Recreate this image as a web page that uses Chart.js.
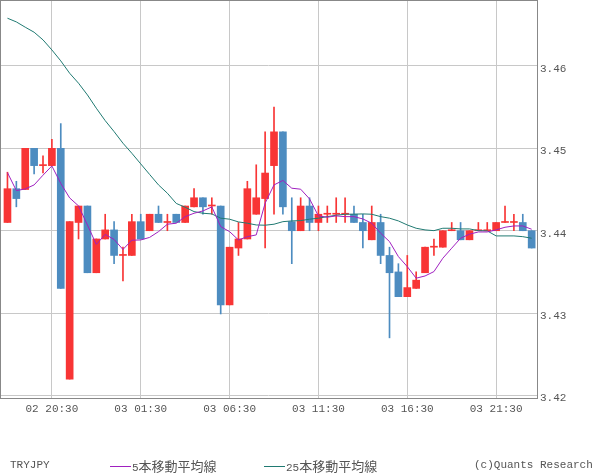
<!DOCTYPE html>
<html><head><meta charset="utf-8">
<script src="https://cdn.jsdelivr.net/npm/chart.js@4"></script>
<style>
body{margin:0;background:#fff;}
#wrap{position:relative;width:600px;height:475px;overflow:hidden;}
canvas{position:absolute;left:0;top:0;}
.lg{position:absolute;font-family:"Liberation Mono",monospace;font-size:11px;color:#555;line-height:13px;white-space:nowrap;}
.kj{font-family:"Noto Sans CJK JP";font-size:13px;line-height:13px;}
.sw{position:absolute;height:1px;width:21px;}
</style></head>
<body><div id="wrap"><canvas id="c" width="600" height="475"></canvas>
<div class="lg" style="left:10px;top:459px">TRYJPY</div>
<div class="sw" style="left:110px;top:466px;background:#a020c0"></div>
<div class="lg" style="left:132px;top:459px">5<span class="kj">本移動平均線</span></div>
<div class="sw" style="left:264px;top:466px;background:#207a72"></div>
<div class="lg" style="left:286px;top:459px">25<span class="kj">本移動平均線</span></div>
<div class="lg" style="left:474px;top:459px">(c)Quants Research</div>
</div>
<script>
const times = ["02 18:00","02 18:30","02 19:00","02 19:30","02 20:00","02 20:30","02 21:00","02 21:30","02 22:00","02 22:30",
"02 23:00","02 23:30","03 00:00","03 00:30","03 01:00","03 01:30","03 02:00","03 02:30","03 03:00","03 03:30",
"03 04:00","03 04:30","03 05:00","03 05:30","03 06:00","03 06:30","03 07:00","03 07:30","03 08:00","03 08:30",
"03 09:00","03 09:30","03 10:00","03 10:30","03 11:00","03 11:30","03 12:00","03 12:30","03 13:00","03 13:30",
"03 14:00","03 14:30","03 15:00","03 15:30","03 16:00","03 16:30","03 17:00","03 17:30","03 18:00","03 18:30",
"03 19:00","03 19:30","03 20:00","03 20:30","03 21:00","03 21:30","03 22:00","03 22:30","03 23:00","03 23:30"];
const openP = [3.4410,3.4451,3.4450,3.4500,3.4479,3.4479,3.4500,3.4220,3.4410,3.4430,
3.4349,3.4390,3.4401,3.4370,3.4370,3.4411,3.4400,3.4420,3.4410,3.4420,
3.4410,3.4429,3.4440,3.4430,3.4430,3.4310,3.4379,3.4390,3.4420,3.4439,
3.4479,3.4520,3.4411,3.4400,3.4430,3.4410,3.4420,3.4420,3.4420,3.4420,
3.4410,3.4389,3.4410,3.4370,3.4350,3.4320,3.4330,3.4349,3.4380,3.4380,
3.4400,3.4400,3.4389,3.4400,3.4400,3.4400,3.4410,3.4410,3.4410,3.4400];
const highP = [3.4471,3.4460,3.4500,3.4500,3.4491,3.4511,3.4530,3.4411,3.4430,3.4430,
3.4390,3.4420,3.4411,3.4380,3.4420,3.4420,3.4420,3.4430,3.4420,3.4420,
3.4430,3.4451,3.4440,3.4440,3.4430,3.4380,3.4410,3.4460,3.4480,3.4520,
3.4550,3.4520,3.4440,3.4440,3.4440,3.4430,3.4430,3.4440,3.4440,3.4430,
3.4420,3.4430,3.4420,3.4380,3.4360,3.4370,3.4350,3.4380,3.4390,3.4400,
3.4410,3.4410,3.4400,3.4410,3.4410,3.4410,3.4430,3.4420,3.4420,3.4400];
const lowP = [3.4410,3.4429,3.4450,3.4469,3.4470,3.4479,3.4330,3.4220,3.4390,3.4349,
3.4349,3.4390,3.4360,3.4339,3.4370,3.4390,3.4400,3.4410,3.4400,3.4410,
3.4410,3.4429,3.4420,3.4420,3.4299,3.4310,3.4370,3.4390,3.4420,3.4379,
3.4420,3.4420,3.4360,3.4400,3.4400,3.4400,3.4410,3.4410,3.4410,3.4410,
3.4379,3.4389,3.4360,3.4270,3.4320,3.4320,3.4330,3.4349,3.4370,3.4380,
3.4400,3.4389,3.4389,3.4400,3.4400,3.4400,3.4410,3.4400,3.4400,3.4379];
const closeP = [3.4451,3.4439,3.4500,3.4479,3.4479,3.4500,3.4330,3.4411,3.4430,3.4349,
3.4390,3.4401,3.4370,3.4370,3.4411,3.4390,3.4420,3.4410,3.4410,3.4410,
3.4430,3.4440,3.4429,3.4430,3.4310,3.4380,3.4390,3.4451,3.4440,3.4470,
3.4520,3.4429,3.4400,3.4430,3.4410,3.4420,3.4420,3.4420,3.4420,3.4410,
3.4400,3.4410,3.4370,3.4349,3.4320,3.4331,3.4340,3.4380,3.4380,3.4400,
3.4400,3.4389,3.4400,3.4400,3.4400,3.4410,3.4410,3.4410,3.4400,3.4379];
const ma5 = [3.44705,3.44487,3.44507,3.44556,3.44674,3.44786,3.44574,3.44398,3.44301,3.44070,
3.43834,3.43955,3.43894,3.43773,3.43885,3.43888,3.43919,3.43989,3.44079,3.44091,
3.44171,3.44212,3.44240,3.44289,3.44050,3.43989,3.43888,3.43928,3.43949,3.44334,
3.44556,3.44610,3.44516,3.44504,3.44386,3.44180,3.44164,3.44180,3.44171,3.44171,
3.44143,3.44091,3.43970,3.43868,3.43686,3.43564,3.43424,3.43451,3.43504,3.43666,
3.43788,3.43909,3.43958,3.43985,3.43985,3.44010,3.44042,3.44058,3.44058,3.44018];
const ma25 = [3.46579,3.46534,3.46470,3.46409,3.46316,3.46194,3.46061,3.45911,3.45790,3.45648,
3.45487,3.45336,3.45203,3.45062,3.44940,3.44811,3.44683,3.44556,3.44455,3.44331,
3.44285,3.44232,3.44212,3.44204,3.44152,3.44140,3.44107,3.44091,3.44070,3.44067,
3.44079,3.44110,3.44119,3.44123,3.44140,3.44152,3.44171,3.44188,3.44200,3.44201,
3.44204,3.44200,3.44171,3.44152,3.44119,3.44070,3.44030,3.44010,3.44001,3.44030,
3.44030,3.44022,3.44022,3.44001,3.43998,3.43937,3.43937,3.43937,3.43928,3.43909];
const yTicks = [3.42,3.43,3.44,3.45,3.46];
const xTickIdx = [5,15,25,35,45,55];

const UP = '#f83535', DOWN = '#4d8cc0';
const col = openP.map((o,i) => closeP[i] >= o ? UP : DOWN);

const frame = {
  id: 'frame',
  afterDraw(chart) {
    const {ctx, chartArea: a} = chart;
    ctx.save();
    ctx.strokeStyle = '#888';
    ctx.lineWidth = 1;
    ctx.strokeRect(a.left + 0.5, a.top + 0.5, a.right - a.left, a.bottom - a.top);
    ctx.restore();
  }
};

new Chart(document.getElementById('c'), {
  type: 'bar',
  data: {
    datasets: [
      { type: 'line', label: '5本移動平均線', data: ma5.map((v,i)=>({x:i,y:v})), borderColor: '#a020c0', borderWidth: 1, pointRadius: 0, tension: 0, order: 0 },
      { type: 'line', label: '25本移動平均線', data: ma25.map((v,i)=>({x:i,y:v})), borderColor: '#207a72', borderWidth: 1, pointRadius: 0, tension: 0, order: 1 },
      { label: 'body', data: openP.map((o,i)=>({x:i,y:[o, closeP[i]]})), backgroundColor: col, barThickness: 7, minBarLength: 1, grouped: false, borderWidth: 0, order: 2 },
      { label: 'wick', data: lowP.map((l,i)=>({x:i,y:[l, highP[i]]})), backgroundColor: col, barThickness: 1, grouped: false, borderWidth: 0, order: 3 }
    ]
  },
  options: {
    responsive: false,
    animation: false,
    events: [],
    devicePixelRatio: 1,
    layout: { padding: 0 },
    plugins: { legend: { display: false }, tooltip: { enabled: false } },
    scales: {
      x: {
        type: 'linear', min: -0.84, max: 59.6, offset: false,
        afterBuildTicks: s => { s.ticks = xTickIdx.map(v => ({value: v})); },
        afterFit: s => { s.height = 77; s.paddingLeft = 0; s.paddingRight = 0; },
        grid: { color: '#c8c8c8', drawTicks: false, offset: false },
        border: { display: false },
        ticks: { autoSkip: false, maxRotation: 0, padding: 4, color: '#555', font: { family: 'Liberation Mono', size: 11 }, callback: v => times[v] }
      },
      y: {
        position: 'right', min: 3.4197, max: 3.468,
        afterBuildTicks: s => { s.ticks = yTicks.map(v => ({value: v})); },
        afterFit: s => { s.width = 63; s.paddingTop = 0; s.paddingBottom = 0; },
        grid: { color: '#c8c8c8', drawTicks: false },
        border: { display: false },
        ticks: { padding: 3, labelOffset: 3, color: '#555', font: { family: 'Liberation Mono', size: 11 }, callback: v => Number(v).toFixed(2) }
      }
    }
  },
  plugins: [frame]
});
</script>
</body></html>
